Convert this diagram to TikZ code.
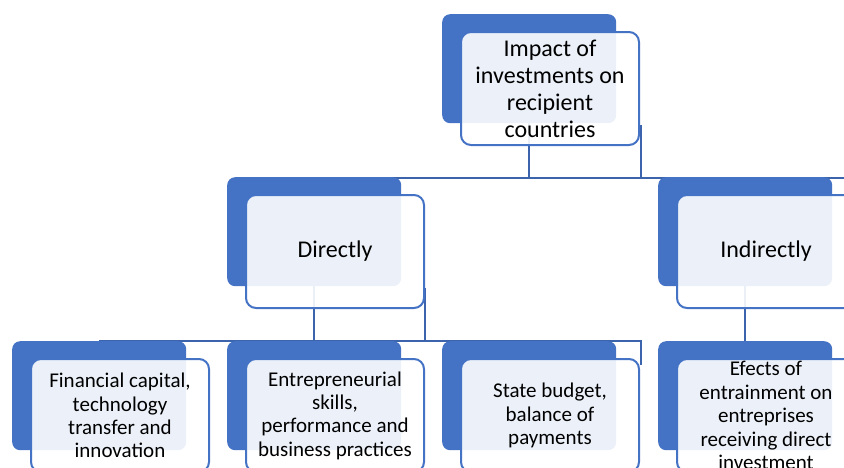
\documentclass[tikz,border=0pt]{standalone}
\usepackage{fontspec}
\setmainfont{Carlito}
\usepackage{tikz}
\usetikzlibrary{backgrounds}
\definecolor{accent}{HTML}{4472C4}
\definecolor{wire}{HTML}{3C64AC}

\begin{document}
\begin{tikzpicture}[line cap=round,line join=round,x=1pt,y=-1pt,
		back/.style={rectangle,rounded corners=8pt,fill=accent,minimum width=174pt,minimum height=109pt,inner sep=0pt,anchor=north west},
		front/.style={rectangle,rounded corners=10pt,draw=accent,line width=2pt,fill=white,fill opacity=0.9,text opacity=1,minimum width=178pt,minimum height=113pt,inner sep=0pt,align=center,anchor=north west},
		big/.style={font=\fontsize{24}{27}\selectfont},
		small/.style={font=\fontsize{21}{23.4}\selectfont},
		link/.style={draw=wire,line width=2.2pt,line cap=butt}]
		\clip(0,0) rectangle (844,467);
		\node[back] (topb) at (442,14) {};
		\node[back] (dirb) at (227,177) {};
		\node[back] (indb) at (658,177) {};
		\node[back] (finb) at (12,341) {};
		\node[back] (entb) at (227,341) {};
		\node[back] (budb) at (442,341) {};
		\node[back] (effb) at (658,341) {};
		\node[front,big] (top) at ([shift={(18,17)}]topb.north west) {Impact of\\investments on\\recipient\\countries};
		\node[front,big] (dir) at ([shift={(18,17)}]dirb.north west) {Directly};
		\node[front,big] (ind) at ([shift={(18,17)}]indb.north west) {Indirectly};
		\node[front,small] (fin) at ([shift={(18,17)}]finb.north west) {Financial capital,\\technology\\transfer and\\innovation};
		\node[front,small] (ent) at ([shift={(18,17)}]entb.north west) {Entrepreneurial\\skills,\\performance and\\business practices};
		\node[front,small] (bud) at ([shift={(18,17)}]budb.north west) {State budget,\\balance of\\payments};
		\node[front,small] (eff) at ([shift={(18,17)}]effb.north west) {Efects of\\entrainment on\\entreprises\\receiving direct\\investment};
		\coordinate (rim) at (850,178);
		\coordinate (topr) at (641,125);
		\coordinate (dirr) at (425,288);
		\coordinate (budr) at (641,365);
		\begin{scope}[on background layer]
			\draw [link] (topb.south) -- (topb.south |- rim);
			\draw [link] (topr) -- (topr |- rim);
			\draw [link] (dirb.north |- rim) -- (rim);
			\draw [link] (dirb.south) -- (dirb.south |- finb.north);
			\draw [link] (dirr) -- (dirr |- finb.north);
			\draw [link] (finb.north) -| (budr);
			\draw [link] (indb.south) -- (effb.north);
		\end{scope}
	\end{tikzpicture}
\end{document}
